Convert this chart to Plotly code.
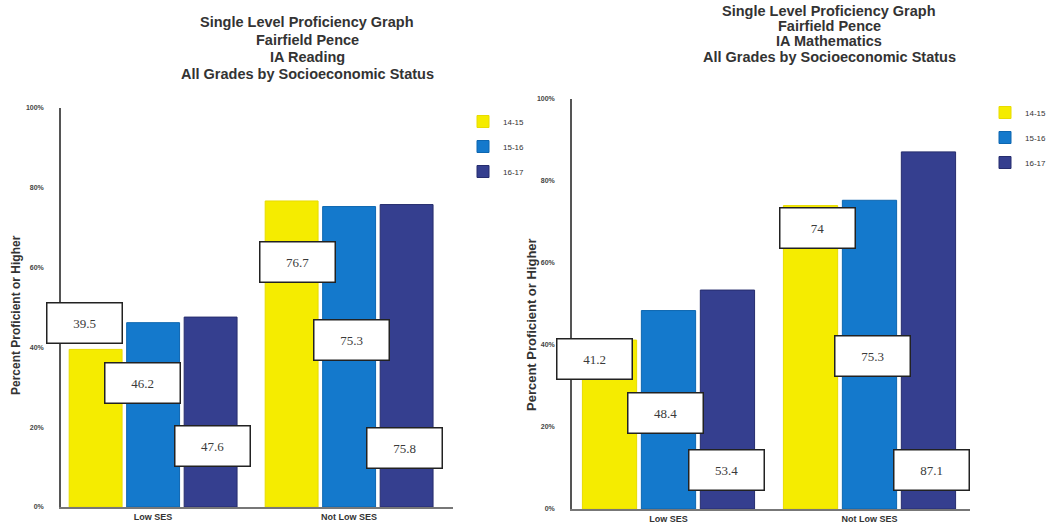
import plotly.graph_objects as go

# ---- data ----
categories = ["Low SES", "Not Low SES"]
series_names = ["14-15", "15-16", "16-17"]
reading_values = {
    "14-15": [39.5, 76.7],
    "15-16": [46.2, 75.3],
    "16-17": [47.6, 75.8],
}
math_values = {
    "14-15": [41.2, 74.0],
    "15-16": [48.4, 75.3],
    "16-17": [53.4, 87.1],
}
reading_label_text = {
    "14-15": ["39.5", "76.7"],
    "15-16": ["46.2", "75.3"],
    "16-17": ["47.6", "75.8"],
}
math_label_text = {
    "14-15": ["41.2", "74"],
    "15-16": ["48.4", "75.3"],
    "16-17": ["53.4", "87.1"],
}
tick_vals = [0, 20, 40, 60, 80, 100]
tick_text = ["0%", "20%", "40%", "60%", "80%", "100%"]
reading_title_lines = ["Single Level Proficiency Graph", "Fairfield Pence", "IA Reading",
                       "All Grades by Socioeconomic Status"]
math_title_lines = ["Single Level Proficiency Graph", "Fairfield Pence", "IA Mathematics",
                    "All Grades by Socioeconomic Status"]
y_title = "Percent Proficient or Higher"

# ---- styling / label placement (not data) ----
colors = {"14-15": "#f5ec00", "15-16": "#1479cc", "16-17": "#353f8f"}
edge = {"14-15": "#e8dc00", "15-16": "#0d66b0", "16-17": "#262d6e"}
# label box placement: (xshift px, y position in axis units)
reading_label_pos = {
    "14-15": [(-69, 46.1), (-52, 61.3)],
    "15-16": [(-11, 31.2), (2, 41.9)],
    "16-17": [(59, 15.4), (55, 14.8)],
}
math_label_pos = {
    "14-15": [(-74, 36.7), (-52, 68.5)],
    "15-16": [(-3, 23.4), (3, 37.3)],
    "16-17": [(58, 9.6), (62, 9.5)],
}
reading_title_y = [22, 40, 57, 74]
math_title_y = [11, 26, 41, 57]

# body margin is removed below, so paper pixels == window pixels
W, H = 1050, 531
def px(sx):
    return sx / W
def py(sy):
    return 1 - sy / H

FONT = "Liberation Sans"

fig = go.Figure()
for name in series_names:
    fig.add_trace(go.Bar(
        x=categories, y=reading_values[name], name=name,
        marker=dict(color=colors[name], line=dict(color=edge[name], width=1)),
        xaxis="x", yaxis="y", legend="legend", legendgroup="r" + name,
    ))
for name in series_names:
    fig.add_trace(go.Bar(
        x=categories, y=math_values[name], name=name,
        marker=dict(color=colors[name], line=dict(color=edge[name], width=1)),
        xaxis="x2", yaxis="y2", legend="legend2", legendgroup="m" + name,
    ))

annotations = []
def add_labels(values_pos, texts, xref, yref):
    for name in series_names:
        for i, cat in enumerate(categories):
            xs, yv = values_pos[name][i]
            annotations.append(dict(
                x=cat, y=yv, xref=xref, yref=yref, xshift=xs,
                text=texts[name][i], showarrow=False,
                font=dict(family="Liberation Serif", size=13, color="#3a3a3a"),
                bgcolor="white", bordercolor="#222222", borderwidth=1.5,
                borderpad=2, width=70, height=35,
                xanchor="center", yanchor="middle",
            ))

add_labels(reading_label_pos, reading_label_text, "x", "y")
add_labels(math_label_pos, math_label_text, "x2", "y2")

for line, yy in zip(reading_title_lines, reading_title_y):
    annotations.append(dict(
        x=px(307), y=py(yy), xref="paper", yref="paper", text="<b>" + line + "</b>",
        showarrow=False, font=dict(family=FONT, size=14.5, color="#333333"),
        xanchor="center", yanchor="middle"))
for line, yy in zip(math_title_lines, math_title_y):
    annotations.append(dict(
        x=px(829), y=py(yy), xref="paper", yref="paper", text="<b>" + line + "</b>",
        showarrow=False, font=dict(family=FONT, size=14.5, color="#333333"),
        xanchor="center", yanchor="middle"))
annotations.append(dict(
    x=px(16), y=py(315), xref="paper", yref="paper", text="<b>" + y_title + "</b>",
    showarrow=False, textangle=-90, font=dict(family=FONT, size=12, color="#333333"),
    xanchor="center", yanchor="middle"))
annotations.append(dict(
    x=px(531), y=py(325), xref="paper", yref="paper", text="<b>" + y_title + "</b>",
    showarrow=False, textangle=-90, font=dict(family=FONT, size=13, color="#333333"),
    xanchor="center", yanchor="middle"))

xaxis_common = dict(
    type="category", showgrid=False, zeroline=False, showline=True,
    linecolor="#777777", linewidth=1.5, ticks="", automargin=False,
    tickfont=dict(family=FONT, size=9, color="#333333"),
    tickvals=categories, ticktext=["<b>" + c + "</b>" for c in categories],
)
yaxis_common = dict(
    range=[0, 100], tickvals=tick_vals, ticktext=["<b>" + t + "</b>" for t in tick_text],
    showgrid=False, automargin=False,
    zeroline=False, showline=True, linecolor="#555555", linewidth=1.5, ticks="",
    tickfont=dict(family=FONT, size=7, color="#444444"), ticklabelstandoff=14,
)

fig.update_layout(
    width=W, height=H,
    margin=dict(l=0, r=0, t=0, b=0, autoexpand=False),
    paper_bgcolor="white", plot_bgcolor="white",
    barmode="group", bargap=0.12, bargroupgap=0.08,
    xaxis=dict(**xaxis_common, domain=[px(61), px(453)], range=[-0.47, 1.53], anchor="y"),
    yaxis=dict(**yaxis_common, domain=[py(507), py(108)], anchor="x"),
    xaxis2=dict(**xaxis_common, domain=[px(572), px(970)], range=[-0.48, 1.5], anchor="y2"),
    yaxis2=dict(**yaxis_common, domain=[py(509), py(99)], anchor="x2"),
    legend=dict(x=px(463), y=py(107), xanchor="left", yanchor="top",
                font=dict(family=FONT, size=8, color="#333333"),
                tracegroupgap=6, bgcolor="rgba(0,0,0,0)"),
    legend2=dict(x=px(985), y=py(98), xanchor="left", yanchor="top",
                 font=dict(family=FONT, size=8, color="#333333"),
                 tracegroupgap=6, bgcolor="rgba(0,0,0,0)"),
    annotations=annotations,
    showlegend=True,
)

fig.write_html(
    "out.html",
    config={"displayModeBar": False},
    post_script="document.body.style.margin='0';document.body.style.overflow='hidden';",
)
